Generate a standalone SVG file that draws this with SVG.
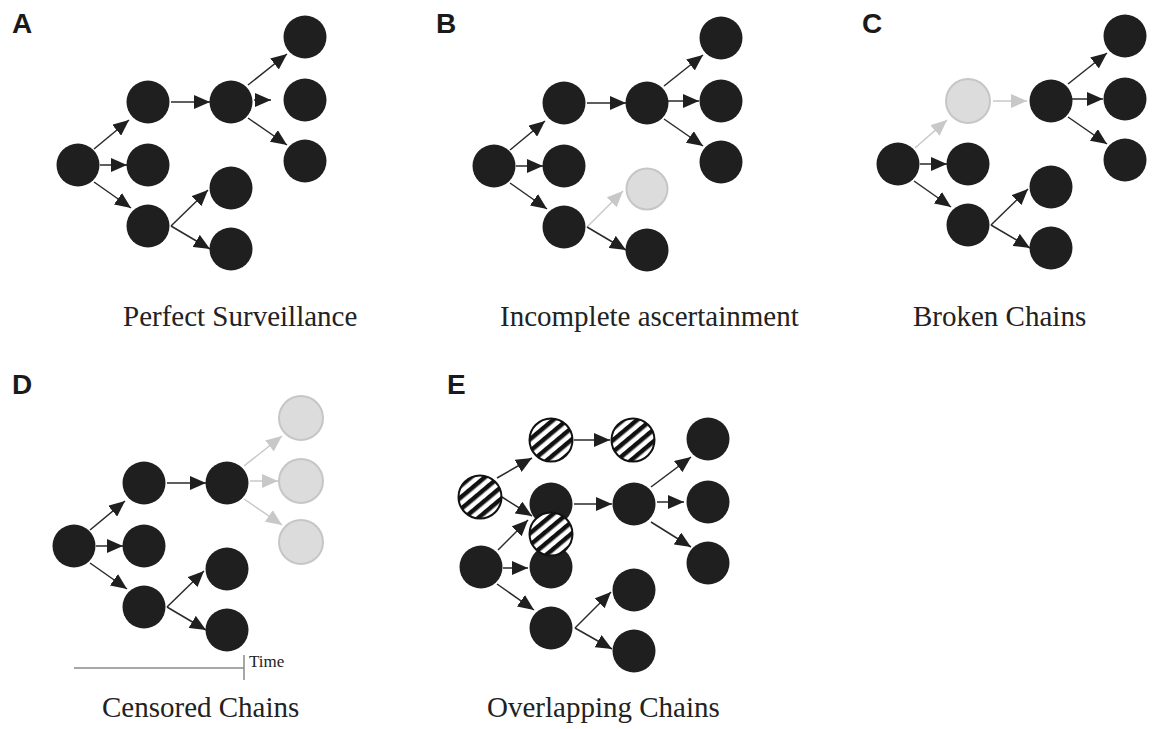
<svg xmlns="http://www.w3.org/2000/svg" width="1152" height="729" viewBox="0 0 1152 729">
<defs>
<style>
.n{fill:#1f1f1f}
.g{fill:#dcdcdc;stroke:#c6c6c6;stroke-width:2}
.s{fill:url(#stripes);stroke:#111;stroke-width:2}
.e{stroke:#2a2a2a;stroke-width:1.5;fill:none;marker-end:url(#ah)}
.eg{stroke:#c8c8c8;stroke-width:1.5;fill:none;marker-end:url(#ahg)}
.lbl{font-family:"Liberation Sans",Arial,sans-serif;font-weight:bold;font-size:28px;fill:#1a1a1a}
.cap{font-family:"Liberation Serif","Times New Roman",serif;font-size:29px;fill:#222}
.tm{font-family:"Liberation Serif","Times New Roman",serif;font-size:17px;fill:#222}
.ax{stroke:#8a8a8a;stroke-width:1.5;fill:none}
</style>
<marker id="ah" markerUnits="userSpaceOnUse" markerWidth="16" markerHeight="14" refX="16" refY="7" orient="auto"><path d="M0,0 L16,7 L0,14 Z" fill="#1f1f1f"/></marker>
<marker id="ahg" markerUnits="userSpaceOnUse" markerWidth="16" markerHeight="14" refX="16" refY="7" orient="auto"><path d="M0,0 L16,7 L0,14 Z" fill="#c8c8c8"/></marker>
<pattern id="stripes" patternUnits="userSpaceOnUse" width="9" height="9" patternTransform="rotate(-40)"><rect x="0" y="0" width="9" height="9" fill="#fff"/><rect x="0" y="0" width="9" height="4.5" fill="#111"/></pattern>
</defs>

<!-- Panel labels -->
<text class="lbl" x="12" y="33">A</text>
<text class="lbl" x="436" y="33">B</text>
<text class="lbl" x="862" y="33">C</text>
<text class="lbl" x="12" y="394">D</text>
<text class="lbl" x="447" y="394">E</text>

<!-- Captions -->
<text class="cap" x="123" y="326">Perfect Surveillance</text>
<text class="cap" x="500" y="326">Incomplete ascertainment</text>
<text class="cap" x="913" y="326">Broken Chains</text>
<text class="cap" x="102" y="717">Censored Chains</text>
<text class="cap" x="487" y="717">Overlapping Chains</text>

<!-- Connectors -->
<g id="connectors">
  <g transform="translate(0,0)">
    <line class="e" x1="94" y1="149" x2="129" y2="120"/>
    <line class="e" x1="100" y1="165" x2="127" y2="165"/>
    <line class="e" x1="94" y1="182" x2="131" y2="208"/>
    <line class="e" x1="171" y1="102" x2="210" y2="102"/>
    <line class="e" x1="248" y1="85" x2="287" y2="54"/>
    <line class="e" x1="254" y1="100" x2="271" y2="100"/>
    <line class="e" x1="248" y1="118" x2="287" y2="145"/>
    <line class="e" x1="171" y1="226" x2="208" y2="190"/>
    <line class="e" x1="171" y1="226" x2="210" y2="249"/>
  </g>
  <g transform="translate(416,1)">
    <line class="e" x1="94" y1="149" x2="129" y2="120"/>
    <line class="e" x1="100" y1="165" x2="127" y2="165"/>
    <line class="e" x1="94" y1="182" x2="131" y2="208"/>
    <line class="e" x1="171" y1="102" x2="210" y2="102"/>
    <line class="e" x1="248" y1="85" x2="287" y2="54"/>
    <line class="e" x1="252" y1="100" x2="283" y2="100"/>
    <line class="e" x1="248" y1="118" x2="287" y2="145"/>
    <line class="eg" x1="171" y1="226" x2="207" y2="190"/>
    <line class="e" x1="171" y1="226" x2="210" y2="249"/>
  </g>
  <g transform="translate(820,-1)">
    <line class="eg" x1="95" y1="149" x2="127" y2="121"/>
    <line class="e" x1="100" y1="165" x2="127" y2="165"/>
    <line class="e" x1="94" y1="182" x2="131" y2="208"/>
    <line class="eg" x1="173" y1="102" x2="207" y2="102"/>
    <line class="e" x1="248" y1="85" x2="287" y2="54"/>
    <line class="e" x1="252" y1="100" x2="283" y2="100"/>
    <line class="e" x1="248" y1="118" x2="287" y2="145"/>
    <line class="e" x1="171" y1="226" x2="208" y2="190"/>
    <line class="e" x1="171" y1="226" x2="210" y2="249"/>
  </g>
  <g transform="translate(-4,381)">
    <line class="e" x1="94" y1="149" x2="129" y2="120"/>
    <line class="e" x1="100" y1="165" x2="127" y2="165"/>
    <line class="e" x1="94" y1="182" x2="131" y2="208"/>
    <line class="e" x1="171" y1="102" x2="210" y2="102"/>
    <line class="eg" x1="248" y1="85" x2="286" y2="55"/>
    <line class="eg" x1="254" y1="100" x2="282" y2="100"/>
    <line class="eg" x1="248" y1="118" x2="286" y2="144"/>
    <line class="e" x1="171" y1="226" x2="208" y2="190"/>
    <line class="e" x1="171" y1="226" x2="210" y2="249"/>
  </g>
  <g transform="translate(403,402)">
    <line class="e" x1="95" y1="148" x2="125" y2="118"/>
    <line class="e" x1="100" y1="166" x2="125" y2="166"/>
    <line class="e" x1="94" y1="182" x2="131" y2="208"/>
    <line class="e" x1="171" y1="102" x2="209" y2="102"/>
    <line class="e" x1="248" y1="85" x2="288" y2="55"/>
    <line class="e" x1="254" y1="100" x2="281" y2="100"/>
    <line class="e" x1="248" y1="120" x2="288" y2="145"/>
    <line class="e" x1="172" y1="226" x2="208" y2="190"/>
    <line class="e" x1="172" y1="226" x2="209" y2="247"/>
  </g>
  <line class="e" x1="497" y1="478" x2="532" y2="458"/>
  <line class="e" x1="502" y1="497" x2="532" y2="516"/>
  <line class="e" x1="574" y1="440" x2="610" y2="440"/>
</g>

<!-- Time axis -->
<g id="time-axis">
  <line class="ax" x1="74" y1="668" x2="244" y2="668"/>
  <line class="ax" x1="244" y1="655" x2="244" y2="680"/>
  <text class="tm" x="249" y="667">Time</text>
</g>

<!-- Panel A -->
<g id="panelA">
  <g id="A-root"><circle class="n" cx="78" cy="165" r="21.5"/></g>
  <g id="A-top"><circle class="n" cx="148" cy="102" r="21.5"/></g>
  <g id="A-mid"><circle class="n" cx="148" cy="165" r="21.5"/></g>
  <g id="A-bot"><circle class="n" cx="148" cy="226" r="21.5"/></g>
  <g id="A-hub"><circle class="n" cx="231" cy="102" r="21.5"/></g>
  <g id="A-f1"><circle class="n" cx="305" cy="37" r="21.5"/></g>
  <g id="A-f2"><circle class="n" cx="305" cy="100" r="21.5"/></g>
  <g id="A-f3"><circle class="n" cx="305" cy="161" r="21.5"/></g>
  <g id="A-l1"><circle class="n" cx="231" cy="188" r="21.5"/></g>
  <g id="A-l2"><circle class="n" cx="231" cy="249" r="21.5"/></g>
</g>

<!-- Panel B -->
<g id="panelB" transform="translate(416,1)">
  <g id="B-root"><circle class="n" cx="78" cy="165" r="21.5"/></g>
  <g id="B-top"><circle class="n" cx="148" cy="102" r="21.5"/></g>
  <g id="B-mid"><circle class="n" cx="148" cy="165" r="21.5"/></g>
  <g id="B-bot"><circle class="n" cx="148" cy="226" r="21.5"/></g>
  <g id="B-hub"><circle class="n" cx="231" cy="102" r="21.5"/></g>
  <g id="B-f1"><circle class="n" cx="305" cy="37" r="21.5"/></g>
  <g id="B-f2"><circle class="n" cx="305" cy="100" r="21.5"/></g>
  <g id="B-f3"><circle class="n" cx="305" cy="161" r="21.5"/></g>
  <g id="B-l1"><circle class="g" cx="231" cy="188" r="20.5"/></g>
  <g id="B-l2"><circle class="n" cx="231" cy="249" r="21.5"/></g>
</g>

<!-- Panel C -->
<g id="panelC" transform="translate(820,-1)">
  <g id="C-root"><circle class="n" cx="78" cy="165" r="21.5"/></g>
  <g id="C-top"><circle class="g" cx="148" cy="102" r="22"/></g>
  <g id="C-mid"><circle class="n" cx="148" cy="165" r="21.5"/></g>
  <g id="C-bot"><circle class="n" cx="148" cy="226" r="21.5"/></g>
  <g id="C-hub"><circle class="n" cx="231" cy="102" r="21.5"/></g>
  <g id="C-f1"><circle class="n" cx="305" cy="37" r="21.5"/></g>
  <g id="C-f2"><circle class="n" cx="305" cy="100" r="21.5"/></g>
  <g id="C-f3"><circle class="n" cx="305" cy="161" r="21.5"/></g>
  <g id="C-l1"><circle class="n" cx="231" cy="188" r="21.5"/></g>
  <g id="C-l2"><circle class="n" cx="231" cy="249" r="21.5"/></g>
</g>

<!-- Panel D -->
<g id="panelD" transform="translate(-4,381)">
  <g id="D-root"><circle class="n" cx="78" cy="165" r="21.5"/></g>
  <g id="D-top"><circle class="n" cx="148" cy="102" r="21.5"/></g>
  <g id="D-mid"><circle class="n" cx="148" cy="165" r="21.5"/></g>
  <g id="D-bot"><circle class="n" cx="148" cy="226" r="21.5"/></g>
  <g id="D-hub"><circle class="n" cx="231" cy="102" r="21.5"/></g>
  <g id="D-f1"><circle class="g" cx="305" cy="37" r="22"/></g>
  <g id="D-f2"><circle class="g" cx="305" cy="100" r="22"/></g>
  <g id="D-f3"><circle class="g" cx="305" cy="161" r="22"/></g>
  <g id="D-l1"><circle class="n" cx="231" cy="188" r="21.5"/></g>
  <g id="D-l2"><circle class="n" cx="231" cy="249" r="21.5"/></g>
</g>

<!-- Panel E -->
<g id="panelE">
  <g transform="translate(403,402)">
    <g id="E-root"><circle class="n" cx="78" cy="165" r="21.5"/></g>
    <g id="E-top"><circle class="n" cx="148" cy="102" r="21.5"/></g>
    <g id="E-mid"><circle class="n" cx="148" cy="165" r="21.5"/></g>
    <g id="E-bot"><circle class="n" cx="148" cy="226" r="21.5"/></g>
    <g id="E-hub"><circle class="n" cx="231" cy="102" r="21.5"/></g>
    <g id="E-f1"><circle class="n" cx="305" cy="37" r="21.5"/></g>
    <g id="E-f2"><circle class="n" cx="305" cy="100" r="21.5"/></g>
    <g id="E-f3"><circle class="n" cx="305" cy="161" r="21.5"/></g>
    <g id="E-l1"><circle class="n" cx="231" cy="188" r="21.5"/></g>
    <g id="E-l2"><circle class="n" cx="231" cy="249" r="21.5"/></g>
  </g>
  <g id="E-s-root"><circle class="s" cx="480" cy="497" r="21.5"/></g>
  <g id="E-s-top"><circle class="s" cx="551" cy="440" r="21.5"/></g>
  <g id="E-s-topright"><circle class="s" cx="633" cy="440" r="21.5"/></g>
  <g id="E-s-overlap"><circle class="s" cx="551" cy="534" r="21.5"/></g>
</g>
</svg>
